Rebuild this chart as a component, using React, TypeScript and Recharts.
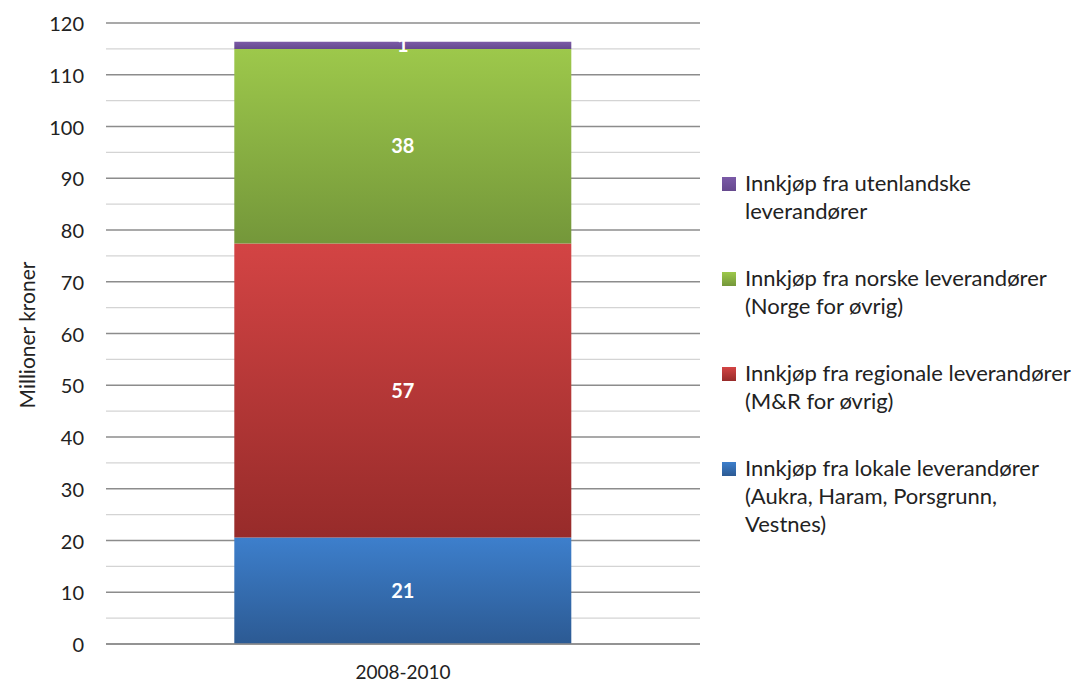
import React from 'react';
import { BarChart, Bar, XAxis, YAxis, CartesianGrid, LabelList } from 'recharts';

const categories = ['2008-2010'];
const lokale = [20.6];
const regionale = [56.8];
const norske = [37.6];
const utenlandske = [1.4];

// gridlines every 5, labels every 10
const yTicks = [0, 5, 10, 15, 20, 25, 30, 35, 40, 45, 50, 55, 60, 65, 70, 75, 80, 85, 90, 95, 100, 105, 110, 115, 120];

const seriesNames: Record<string, string> = {
  utenlandske: 'Innkjøp fra utenlandske\nleverandører',
  norske: 'Innkjøp fra norske leverandører\n(Norge for øvrig)',
  regionale: 'Innkjøp fra regionale leverandører\n(M&R for øvrig)',
  lokale: 'Innkjøp fra lokale leverandører\n(Aukra, Haram, Porsgrunn,\nVestnes)',
};

const legendOrder = ['utenlandske', 'norske', 'regionale', 'lokale'];

const colors: Record<string, [string, string]> = {
  lokale: ['#3d7fcc', '#2c5a93'],
  regionale: ['#d34444', '#972b2a'],
  norske: ['#9dc84b', '#74973a'],
  utenlandske: ['#7b5aa7', '#66498e'],
};

const data = categories.map((name, i) => ({
  name,
  lokale: lokale[i],
  regionale: regionale[i],
  norske: norske[i],
  utenlandske: utenlandske[i],
}));

const FONT = 'Lato, "Open Sans", sans-serif';

const LegendBox = () => (
  <div
    style={{
      position: 'absolute',
      left: 714,
      top: 162,
      width: 360,
      fontFamily: FONT,
      fontSize: 22,
      color: '#222',
    }}
  >
    {legendOrder.map((key) => (
      <div key={key} style={{ display: 'flex', height: 95, alignItems: 'flex-start' }}>
        <div
          style={{
            width: 14,
            height: 14,
            marginTop: 7,
            marginRight: 9,
            background: `linear-gradient(${colors[key][0]}, ${colors[key][1]})`,
            flexShrink: 0,
          }}
        />
        <div style={{ whiteSpace: 'pre-line', lineHeight: '28px', marginTop: -1 }}>{seriesNames[key]}</div>
      </div>
    ))}
  </div>
);

const YLabel = () => (
  <text
    x={0}
    y={0}
    transform="translate(18, 327) rotate(-90)"
    textAnchor="middle"
    dominantBaseline="central"
    fontFamily={FONT}
    fontSize={21}
    fill="#222"
  >
    Millioner kroner
  </text>
);

const YTick = (props: any) => {
  const { x, y, payload } = props;
  if (payload.value % 10 !== 0) return null;
  return (
    <text x={x} y={y} textAnchor="end" dominantBaseline="central" fill="#222" fontSize={20} fontFamily={FONT}>
      {payload.value}
    </text>
  );
};

const GridLine = (props: any) => {
  const { x1, y1, x2, y2, index } = props;
  const major = index % 2 === 0;
  return (
    <line
      x1={x1}
      y1={y1}
      x2={x2}
      y2={y2}
      stroke={major ? '#8c8c8c' : '#d4d4d4'}
      strokeWidth={1.3}
    />
  );
};

const roundLabel = (v: any) => Math.round(Number(v));

export default function App() {
  const stackKeys = ['lokale', 'regionale', 'norske', 'utenlandske'];
  return (
    <div style={{ position: 'relative', width: 1064, height: 675 }}>
      <BarChart
        width={1064}
        height={675}
        data={data}
        margin={{ top: 15, right: 372, left: 38, bottom: 9 }}
        barCategoryGap="21.6%"
      >
        <defs>
          {stackKeys.map((k) => (
            <linearGradient key={k} id={`grad-${k}`} x1="0" y1="0" x2="0" y2="1">
              <stop offset="0%" stopColor={colors[k][0]} />
              <stop offset="100%" stopColor={colors[k][1]} />
            </linearGradient>
          ))}
        </defs>
        <CartesianGrid vertical={false} horizontal={<GridLine />} />
        <XAxis
          dataKey="name"
          height={30}
          tickLine={false}
          axisLine={{ stroke: '#8c8c8c', strokeWidth: 1.3 }}
          tick={{ fill: '#222', fontSize: 19, fontFamily: FONT }}
          tickMargin={16}
        />
        <YAxis
          width={60}
          domain={[0, 120]}
          ticks={yTicks}
          interval={0}
          type="number"
          axisLine={false}
          tickLine={false}
          tickSize={6}
          tickMargin={16}
          tick={<YTick />}
          label={<YLabel />}
        />
        {stackKeys.map((k) => (
          <Bar
            key={k}
            dataKey={k}
            stackId="a"
            fill={`url(#grad-${k})`}
            isAnimationActive={false}
          >
            <LabelList
              dataKey={k}
              position="center"
              formatter={roundLabel}
              fill="#fff"
              fontWeight="bold"
              fontSize={20}
              fontFamily={FONT}
            />
          </Bar>
        ))}
      </BarChart>
      <LegendBox />
    </div>
  );
}
